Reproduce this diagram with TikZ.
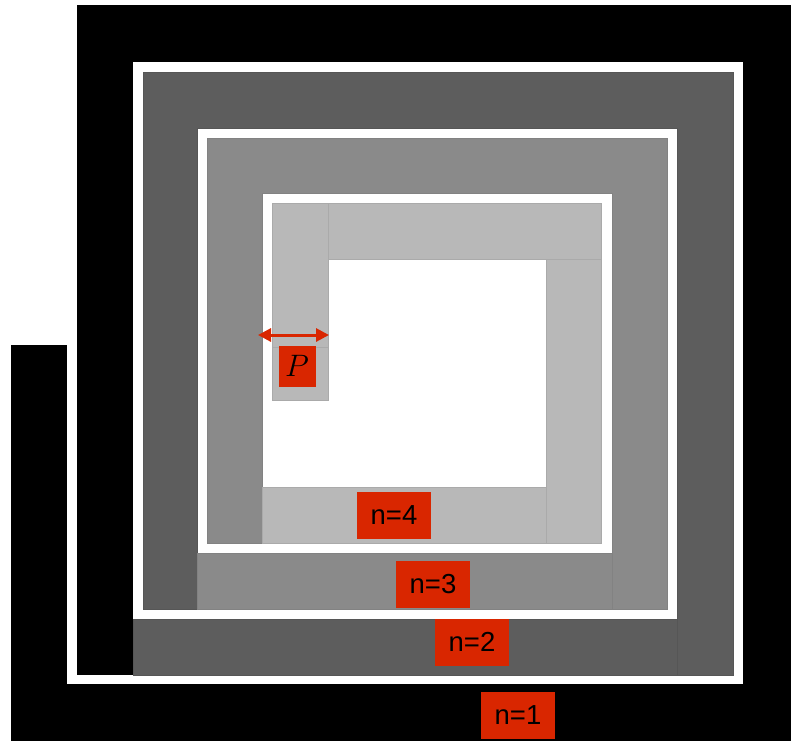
\RequirePackage{fix-cm}
\documentclass[tikz,border=0pt]{standalone}
\usepackage{fontspec}
\setsansfont{Liberation Sans}
\usetikzlibrary{arrows.meta}
\definecolor{turnA}{RGB}{0,0,0}
\definecolor{turnB}{RGB}{93,93,93}
\definecolor{turnC}{RGB}{138,138,138}
\definecolor{turnD}{RGB}{184,184,184}
\definecolor{edgeB}{RGB}{86,86,86}
\definecolor{edgeC}{RGB}{130,130,130}
\definecolor{edgeD}{RGB}{170,170,170}
\definecolor{tagred}{RGB}{217,38,0}
\tikzset{
  bandA/.style={fill=turnA},
  bandB/.style={fill=turnB, draw=edgeB, line width=0.4pt},
  bandC/.style={fill=turnC, draw=edgeC, line width=0.4pt},
  bandD/.style={fill=turnD, draw=edgeD, line width=0.5pt},
  tag/.style={fill=tagred, text=black, inner sep=0pt, minimum width=74pt,
    minimum height=47pt, font=\sffamily\fontsize{27.5}{28}\selectfont},
  ptag/.style={fill=tagred, text=black, inner sep=0pt, minimum width=37pt,
    minimum height=41pt, font=\fontsize{31}{31}\selectfont},
  width arrow/.style={draw=tagred, line width=3pt,
    {Triangle[length=13pt,width=13pt]}-{Triangle[length=13pt,width=13pt]}}
}
\begin{document}
\begin{tikzpicture}[x=1pt,y=-1pt]
\useasboundingbox (0,0) rectangle (791,740);
\fill[white] (0,0) rectangle (791,740);
\begin{scope}
\clip (0,0) rectangle (791,740);
% turn n=1
\fill[bandA] (11,345) rectangle (67,745);
\fill[bandA] (11,684) rectangle (795,745);
\fill[bandA] (743,5) rectangle (795,745);
\fill[bandA] (77,5) rectangle (795,62);
\fill[bandA] (77,5) rectangle (133,675);
\end{scope}
% turn n=2
\path[bandB] (133,619) rectangle (733,675);
\path[bandB] (677,72) rectangle (733,675);
\path[bandB] (143,72) rectangle (733,128);
\path[bandB] (143,72) rectangle (197,609);
\fill[turnB] (143.5,72.5) rectangle (732.5,127.5);
\fill[turnB] (677.5,72.5) rectangle (732.5,674.5);
% turn n=3
\path[bandC] (197,553) rectangle (667,609);
\path[bandC] (612,138) rectangle (667,609);
\path[bandC] (207,138) rectangle (667,193);
\path[bandC] (207,138) rectangle (262,543);
\fill[turnC] (207.5,138.5) rectangle (666.5,192.5);
\fill[turnC] (612.5,138.5) rectangle (666.5,608.5);
% turn n=4
\path[bandD] (262,487) rectangle (601,543);
\path[bandD] (546,203) rectangle (601,543);
\path[bandD] (272,203) rectangle (601,259);
\path[bandD] (272,203) rectangle (328,347);
\path[bandD] (272,347) rectangle (328,400);
% width marker and labels
\coordinate (wl) at (258,335);
\coordinate (wr) at (329,335);
\draw[width arrow] (wl) -- (wr);
\node[ptag] (p) at (297,366) {$P$};
\node[tag] (n4) at (394,515.5) {n=4};
\node[tag] (n3) at (433,584) {n=3};
\node[tag] (n2) at (472,642) {n=2};
\node[tag] (n1) at (518,715.5) {n=1};
\end{tikzpicture}
\end{document}
